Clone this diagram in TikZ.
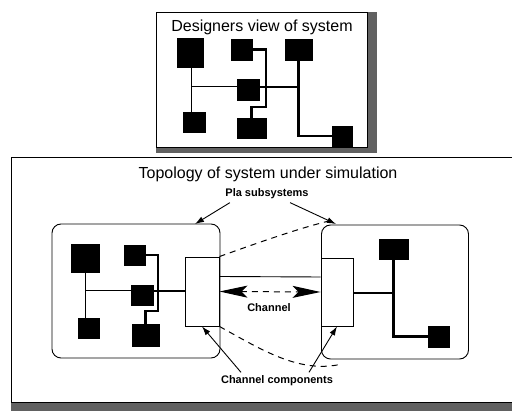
\documentclass[tikz,border=0pt]{standalone}
\usepackage{fontspec}
\setmainfont{Liberation Sans}
\usetikzlibrary{arrows.meta,calc}
\begin{document}
\begin{tikzpicture}[x=1pt,y=-1pt,
  sq/.style={fill=black,draw=black,inner sep=0pt,minimum width=#1},
  frame/.style={draw=black,line width=0.9pt},
  thinln/.style={line width=1pt},
  thickln/.style={line width=2.4pt},
  shade/.style={fill=black!62,draw=none},
  title/.style={font=\fontsize{16}{18}\selectfont},
  lbl/.style={font=\bfseries\fontsize{11}{13}\selectfont},
  sub/.style={draw=black,line width=0.9pt,rounded corners=9pt},
  comp/.style={draw=black,line width=0.9pt,fill=white},
  ptr/.style={line width=0.9pt,-{Latex[length=9pt,width=6pt]}},
  dsh/.style={line width=1pt,dash pattern=on 6pt off 5pt}]
\useasboundingbox (0,0) rectangle (512,411);
% ---------- top box ----------
\fill[shade] (367,12) rectangle (377,153);
\fill[shade] (156,147) rectangle (377,153);
\node[frame,minimum width=211pt,minimum height=135pt,inner sep=0pt] (top) at (261.5,79.5) {};
\node[title] (toptitle) at (262,27) {Designers view of system};
\node[sq=26pt,minimum height=29pt] (tA) at (190,52.5) {};
\node[sq=21pt,minimum height=21pt] (tB) at (241.5,49.5) {};
\node[sq=27pt,minimum height=21pt] (tC) at (298.5,49.5) {};
\node[sq=22pt,minimum height=21pt] (tD) at (248,89.5) {};
\node[sq=22pt,minimum height=20pt] (tE) at (194,122) {};
\node[sq=29pt,minimum height=20pt] (tF) at (251.5,128) {};
\node[sq=20pt,minimum height=20pt] (tG) at (342,136) {};
\coordinate (tj) at (191,87);
\draw[thinln] (tA.south -| tj) -- (tE.north -| tj);
\draw[thinln] (tj) -- (tj -| tD.west);
\draw[thickln] (tj -| tD.east) -- (tj -| tC.south);
\draw[thickln] (tC.south) |- (tG.west);
\draw[thickln] (tB.east) -| (266,107) -| (tF.north);
% ---------- bottom box ----------
\fill[shade] (11,402) rectangle (512,411);
\draw[frame] (512,157) -- (11,157) -- (11,402) -- (512,402);
\node[title] (bottitle) at (268,174) {Topology of system under simulation};
\node[lbl] (pla) at (267,194) {Pla subsystems};
% left subsystem
\node[sub,minimum width=168pt,minimum height=134pt,inner sep=0pt] (lbox) at (136,291) {};
\node[sq=28pt,minimum height=28pt] (lA) at (85,258) {};
\node[sq=21pt,minimum height=20pt] (lB) at (134.5,255) {};
\node[sq=22pt,minimum height=20pt] (lD) at (142,295) {};
\node[sq=21pt,minimum height=20pt] (lE) at (88.5,328) {};
\node[sq=27pt,minimum height=22pt] (lF) at (145.5,335) {};
\node[comp,minimum width=34pt,minimum height=69pt,inner sep=0pt] (lC) at (202,291.5) {};
\coordinate (lj) at (85,291);
\draw[thinln] (lA.south -| lj) -- (lE.north -| lj);
\draw[thinln] (lj) -- (lj -| lD.west);
\draw[thickln] (lj -| lD.east) -- (lj -| lC.west);
\draw[thickln] (lB.east) -| (158,311) -| (lF.north);
% right subsystem
\node[sub,minimum width=147pt,minimum height=134pt,inner sep=0pt] (rbox) at (395,292) {};
\node[sq=29pt,minimum height=20pt] (rA) at (393.5,249) {};
\node[sq=21pt,minimum height=21pt] (rB) at (438.5,336.5) {};
\node[comp,minimum width=32pt,minimum height=68pt,inner sep=0pt] (rC) at (337,292) {};
\coordinate (rj) at (393.5,293);
\draw[thickln] (rC.east |- rj) -- (rj);
\draw[thickln] (rA.south) |- (rB.west);
% channel
\draw[line width=0.9pt] ($(lC.east)+(0,-15)$) -- ($(rC.west)+(0,-15)$);
\draw[dsh,{Stealth[length=28pt,width=12pt,inset=6pt]}-{Stealth[length=28pt,width=12pt,inset=6pt]}] (lC.east) -- (rC.west);
\node[lbl] (chan) at (269,308) {Channel};
% dashed links between subsystems
\coordinate (dt) at (329,221);
\draw[dsh] (lC.north east) .. controls (260,242) and (300,228) .. (dt);
\coordinate (db) at (342,364);
\draw[dsh] (lC.south east) .. controls (262,350) and (300,374) .. (db);
% pointers
\draw[ptr] (pla.south west) ++(8,0) -- (195,224);
\draw[ptr] (pla.south east) ++(-22,0) -- (336,224);
\node[lbl] (cc) at (277,381) {Channel components};
\draw[ptr] ($(cc.north)+(-36,0)$) -- (lC.south);
\draw[ptr] ($(cc.north)+(32,0)$) -- (rC.south);
\end{tikzpicture}
\end{document}
